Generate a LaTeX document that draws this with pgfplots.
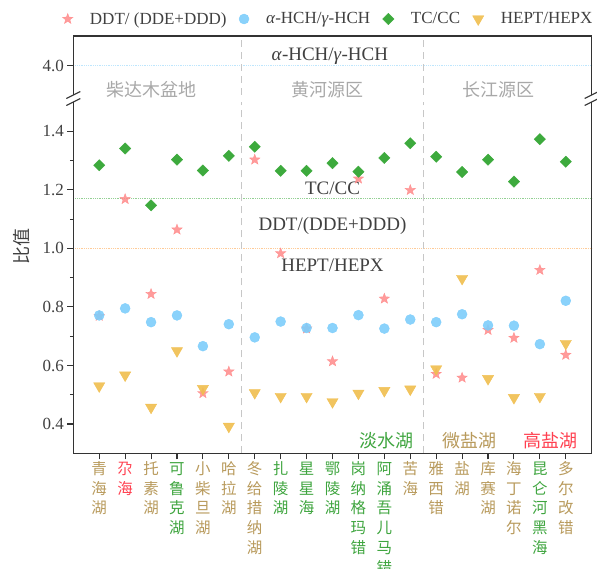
\documentclass[border=0pt]{standalone}
\usepackage{pgfplots}
\pgfplotsset{compat=1.18}
\usepackage{fontspec}
\setmainfont{Liberation Serif}
\newfontfamily\cjk{Noto Sans CJK SC}
\definecolor{starc}{HTML}{FF8A8A}
\definecolor{circc}{HTML}{7DCDFB}
\definecolor{diac}{HTML}{3DAA3D}
\definecolor{tric}{HTML}{F0BE4E}
\definecolor{tanc}{HTML}{B89A5C}
\definecolor{grnc}{HTML}{3FA53F}
\definecolor{redc}{HTML}{FF4050}
\definecolor{axc}{HTML}{333333}
\definecolor{txc}{HTML}{404040}
\definecolor{regc}{HTML}{A8A8A8}
\pgfdeclareplotmark{fstar}{%
  \pgfpathmoveto{\pgfpointpolar{90}{\pgfplotmarksize}}%
  \pgfpathlineto{\pgfpointpolar{126}{0.42\pgfplotmarksize}}%
  \pgfpathlineto{\pgfpointpolar{162}{\pgfplotmarksize}}%
  \pgfpathlineto{\pgfpointpolar{198}{0.42\pgfplotmarksize}}%
  \pgfpathlineto{\pgfpointpolar{234}{\pgfplotmarksize}}%
  \pgfpathlineto{\pgfpointpolar{270}{0.42\pgfplotmarksize}}%
  \pgfpathlineto{\pgfpointpolar{306}{\pgfplotmarksize}}%
  \pgfpathlineto{\pgfpointpolar{342}{0.42\pgfplotmarksize}}%
  \pgfpathlineto{\pgfpointpolar{18}{\pgfplotmarksize}}%
  \pgfpathlineto{\pgfpointpolar{54}{0.42\pgfplotmarksize}}%
  \pgfpathclose
  \pgfusepathqfillstroke
}
\newcommand\lab[2]{\textcolor{#1}{\begin{tabular}[t]{@{}c@{}}#2\end{tabular}}}

\pgfplotstableread{
x y
1 0.769
2 1.168
3 0.844
4 1.064
5 0.505
6 0.579
7 1.303
8 0.983
9 0.726
10 0.614
11 1.238
12 0.828
13 1.199
14 0.571
15 0.558
16 0.721
17 0.694
18 0.926
19 0.636
}\ddt
\pgfplotstableread{
x y
1 0.771
2 0.795
3 0.748
4 0.771
5 0.666
6 0.741
7 0.696
8 0.750
9 0.728
10 0.728
11 0.772
12 0.726
13 0.757
14 0.748
15 0.775
16 0.737
17 0.736
18 0.673
19 0.821
}\hch
\pgfplotstableread{
x y
1 1.284
2 1.341
3 1.147
4 1.303
5 1.266
6 1.316
7 1.347
8 1.265
9 1.265
10 1.291
11 1.262
12 1.309
13 1.359
14 1.313
15 1.261
16 1.303
17 1.228
18 1.373
19 1.296
}\tccc
\pgfplotstableread{
x y
1 0.530
2 0.567
3 0.457
4 0.650
5 0.521
6 0.392
7 0.507
8 0.494
9 0.494
10 0.476
11 0.505
12 0.514
13 0.519
14 0.588
15 0.897
16 0.555
17 0.490
18 0.494
19 0.675
}\hept

\pgfplotsset{
  ylabfmt/.style={yticklabel style={font=\fontsize{17}{17}\selectfont, text=txc,
    /pgf/number format/fixed, /pgf/number format/fixed zerofill,
    /pgf/number format/precision=1, /pgf/number format/assume math mode=true}}
}

\begin{document}
\begin{tikzpicture}[x=1pt,y=1pt]
\path[use as bounding box] (0,0) rectangle (597,568);

% lower axis
\begin{axis}[
  at={(73.3pt,114.7pt)}, anchor=south west, scale only axis,
  width=518.4pt, height=351.3pt,
  xmin=0, xmax=20, ymin=0.3, ymax=1.5,
  clip=false,
  axis line style={draw=none},
  xtick={1,...,19}, xtick pos=bottom,
  ytick={0.4,0.6,0.8,1.0,1.2,1.4}, ytick pos=left,
  minor ytick={0.5,0.7,0.9,1.1,1.3},
  tick align=outside, major tick length=6pt, minor tick length=3.5pt,
  tick style={axc, line width=1.1pt},
  ylabfmt,
  xticklabels={\lab{tanc}{青\\海\\湖}, \lab{redc}{尕\\海}, \lab{tanc}{托\\素\\湖}, \lab{grnc}{可\\鲁\\克\\湖}, \lab{tanc}{小\\柴\\旦\\湖}, \lab{tanc}{哈\\拉\\湖}, \lab{tanc}{冬\\给\\措\\纳\\湖}, \lab{grnc}{扎\\陵\\湖}, \lab{grnc}{星\\星\\海}, \lab{grnc}{鄂\\陵\\湖}, \lab{grnc}{岗\\纳\\格\\玛\\错}, \lab{grnc}{阿\\涌\\吾\\儿\\马\\错}, \lab{tanc}{苦\\海}, \lab{tanc}{雅\\西\\错}, \lab{tanc}{盐\\湖}, \lab{tanc}{库\\赛\\湖}, \lab{tanc}{海\\丁\\诺\\尔}, \lab{grnc}{昆\\仑\\河\\黑\\海}, \lab{tanc}{多\\尔\\改\\错}},
  xticklabel style={font=\cjk\fontsize{15.5}{19.8}\selectfont, inner sep=1pt},
  legend columns=4,
  legend cell align=left,
  legend style={draw=none, fill=none, at={(axis description cs:0,1)}, anchor=west, xshift=-14pt, yshift=83pt, font=\fontsize{17}{20}\selectfont, text=txc,
    /tikz/every odd column/.append style={column sep=15pt},
    /tikz/every even column/.append style={column sep=10.5pt}},
]
\addplot[forget plot, draw=diac!55, densely dotted, line width=0.8pt] coordinates {(0,1.17) (20,1.17)};
\addplot[forget plot, draw=orange!40, densely dotted, line width=0.8pt] coordinates {(0,1.0) (20,1.0)};
\addplot[forget plot, draw=black!22, dash pattern=on 7pt off 5pt, line width=1pt] coordinates {(6.5,0.3) (6.5,1.5)};
\addplot[forget plot, draw=black!22, dash pattern=on 7pt off 5pt, line width=1pt] coordinates {(13.5,0.3) (13.5,1.5)};

\addplot[only marks, mark=fstar, mark size=5.5pt, color=starc, mark options={fill=starc, draw=starc, opacity=0.85}] table {\ddt};
\addlegendentry{DDT/ (DDE+DDD)}
\addplot[only marks, mark=*, mark size=5pt, color=circc, mark options={fill=circc, draw=circc, opacity=0.9}] table {\hch};
\addlegendentry{\textit{α}-HCH/\textit{γ}-HCH}
\addplot[only marks, mark=square*, mark size=4pt, color=diac, mark options={rotate=45, fill=diac, draw=diac}] table {\tccc};
\addlegendentry{TC/CC}
\addplot[only marks, mark=triangle*, mark size=6.5pt, color=tric, mark options={rotate=180, fill=tric, draw=tric, opacity=0.9}] table {\hept};
\addlegendentry{HEPT/HEPX}

\draw[axc, line width=1.3pt] (rel axis cs:0,1) -- (rel axis cs:0,0) -- (rel axis cs:1,0) -- (rel axis cs:1,1);

\node[font=\fontsize{19}{19}\selectfont, text=txc] at (axis cs:10,1.204) {TC/CC};
\node[font=\fontsize{19}{19}\selectfont, text=txc] at (axis cs:10,1.076) {DDT/(DDE+DDD)};
\node[font=\fontsize{19}{19}\selectfont, text=txc] at (axis cs:10,0.943) {HEPT/HEPX};
\node[font=\cjk\fontsize{18}{18}\selectfont, text=grnc] at (axis cs:12.1,0.342) {淡水湖};
\node[font=\cjk\fontsize{18}{18}\selectfont, text=tanc] at (axis cs:15.3,0.342) {微盐湖};
\node[font=\cjk\fontsize{18}{18}\selectfont, text=redc] at (axis cs:18.4,0.342) {高盐湖};
\end{axis}

% upper axis
\begin{axis}[
  at={(73.3pt,473pt)}, anchor=south west, scale only axis,
  width=518.4pt, height=59pt,
  xmin=0, xmax=20, ymin=3.9, ymax=4.1,
  clip=false,
  axis line style={draw=none},
  xtick=\empty,
  ytick={4.0}, ytick pos=left,
  tick align=outside, major tick length=6pt,
  tick style={axc, line width=1.1pt},
  ylabfmt,
]
\addplot[draw=circc!50, densely dotted, line width=0.8pt] coordinates {(0,4.0) (20,4.0)};
\addplot[draw=black!22, dash pattern=on 7pt off 5pt, line width=1pt] coordinates {(6.5,3.9) (6.5,4.1)};
\addplot[draw=black!22, dash pattern=on 7pt off 5pt, line width=1pt] coordinates {(13.5,3.9) (13.5,4.1)};
\draw[axc, line width=1.3pt] (rel axis cs:0,0) -- (rel axis cs:0,1) -- (rel axis cs:1,1) -- (rel axis cs:1,0);
\node[font=\fontsize{19}{19}\selectfont, text=txc] at (axis cs:9.9,4.032) {\textit{α}-HCH/\textit{γ}-HCH};
\node[font=\cjk\fontsize{18}{18}\selectfont, text=regc] at (axis cs:3.0,3.917) {柴达木盆地};
\node[font=\cjk\fontsize{18}{18}\selectfont, text=regc] at (axis cs:9.8,3.917) {黄河源区};
\node[font=\cjk\fontsize{18}{18}\selectfont, text=regc] at (axis cs:16.4,3.917) {长江源区};
\end{axis}

% axis breaks
\foreach \bx in {73.3,591.7}{
  \draw[axc, line width=1.1pt] (\bx-7,473-3.5) -- (\bx+7,473+3.5);
  \draw[axc, line width=1.1pt] (\bx-7,466-3.5) -- (\bx+7,466+3.5);
}
\node[rotate=90, font=\cjk\fontsize{18}{18}\selectfont, text=txc] at (22,321) {比值};
\end{tikzpicture}
\end{document}
